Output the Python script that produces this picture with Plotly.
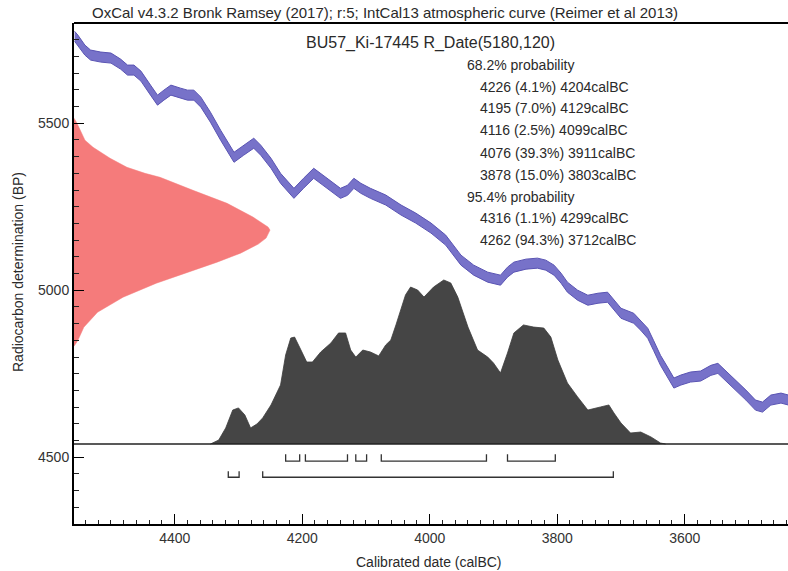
import plotly.graph_objects as go

# ---------------- data ----------------
# IntCal13 calibration curve (centre)
curve_year = [4557, 4552, 4541, 4532, 4516, 4500, 4485, 4474, 4464, 4453, 4438, 4427, 4417, 4406,
              4391, 4380, 4370, 4359, 4344, 4328, 4307, 4292, 4276, 4265, 4249, 4234, 4213, 4198,
              4182, 4163, 4140, 4129, 4119, 4108, 4093, 4069, 4045, 4022, 3998, 3975, 3951, 3931,
              3909, 3889, 3878, 3868, 3849, 3831, 3818, 3805, 3794, 3784, 3768, 3752, 3736, 3721,
              3711, 3700, 3680, 3669, 3658, 3649, 3638, 3627, 3617, 3606, 3591, 3575, 3559, 3548,
              3536, 3520, 3504, 3489, 3478, 3465, 3449, 3437]
curve_bp = [5760, 5749, 5719, 5704, 5698, 5695, 5677, 5659, 5659, 5641, 5599, 5569, 5584, 5599,
            5590, 5584, 5584, 5563, 5518, 5464, 5398, 5419, 5440, 5419, 5380, 5335, 5290, 5320,
            5350, 5323, 5290, 5299, 5320, 5305, 5290, 5270, 5240, 5216, 5186, 5150, 5090, 5060,
            5039, 5030, 5054, 5069, 5078, 5081, 5075, 5060, 5036, 5009, 4985, 4970, 4976, 4979,
            4955, 4931, 4916, 4895, 4871, 4835, 4790, 4755, 4722, 4731, 4740, 4743, 4760, 4766,
            4745, 4716, 4686, 4656, 4650, 4671, 4677, 4671]
curve_err = 15

rdate_bp = [5515, 5500, 5449, 5428, 5395, 5368, 5350, 5338, 5299, 5260, 5219, 5189, 5180,
            5156, 5138, 5111, 5084, 5054, 5021, 4979, 4934, 4889, 4850, 4832]
rdate_p = [0.0, 0.015, 0.056, 0.097, 0.184, 0.27, 0.362, 0.439, 0.607, 0.781, 0.913, 0.99, 1.0,
           0.98, 0.94, 0.85, 0.73, 0.58, 0.42, 0.25, 0.12, 0.05, 0.02, 0.0]

# Calibrated distribution (relative probability)
cal_year = [4344, 4331, 4320, 4309, 4300, 4290, 4281, 4271, 4262, 4249, 4234, 4226, 4218, 4212,
            4202, 4193, 4184, 4171, 4155, 4143, 4132, 4124, 4116, 4105, 4093, 4080, 4069, 4061,
            4053, 4045, 4038, 4030, 4019, 4009, 4002, 3994, 3978, 3967, 3956, 3940, 3925, 3909,
            3900, 3889, 3878, 3868, 3853, 3837, 3821, 3810, 3799, 3784, 3768, 3752, 3732, 3719,
            3711, 3700, 3685, 3669, 3653, 3638, 3630]
cal_p = [0.0, 0.024, 0.098, 0.207, 0.22, 0.177, 0.098, 0.122, 0.159, 0.238, 0.36, 0.543, 0.646,
         0.652, 0.573, 0.5, 0.5, 0.561, 0.616, 0.677, 0.677, 0.573, 0.53, 0.573, 0.561, 0.537,
         0.604, 0.634, 0.726, 0.817, 0.909, 0.957, 0.939, 0.896, 0.927, 0.957, 1.0, 0.982, 0.896,
         0.713, 0.573, 0.53, 0.494, 0.433, 0.555, 0.677, 0.726, 0.713, 0.707, 0.652, 0.512,
         0.372, 0.287, 0.207, 0.226, 0.238, 0.189, 0.128, 0.067, 0.073, 0.043, 0.006, 0.0]

# Ranges (calBC)
range68_from = [4226, 4195, 4116, 4076, 3878]
range68_to = [4204, 4129, 4099, 3911, 3803]
range68_pct = ["4.1%", "7.0%", "2.5%", "39.3%", "15.0%"]
range95_from = [4316, 4262]
range95_to = [4299, 3712]
range95_pct = ["1.1%", "94.3%"]

x_ticks = [4400, 4200, 4000, 3800, 3600]
y_ticks = [4500, 5000, 5500]

# ---------------- layout helpers ----------------
W, H = 788, 571
L, R, T, B = 74, 0, 23, 47
PW, PH = W - L - R, H - T - B


def px(xp):
    return (xp - L) / PW


def py(yp):
    return (H - B - yp) / PH


FONT = "Liberation Sans, Arial, sans-serif"
TXT = "#2a2a2a"

fig = go.Figure()

# calibration band
upper = [v + curve_err for v in curve_bp]
lower = [v - curve_err for v in curve_bp]
fig.add_trace(go.Scatter(
    x=curve_year + curve_year[::-1], y=upper + lower[::-1],
    fill="toself", fillcolor="#7772c9", mode="lines",
    line=dict(color="#5a54b3", width=1), hoverinfo="skip", showlegend=False))

# red measured distribution on left (x2 axis)
fig.add_trace(go.Scatter(
    x=rdate_p, y=rdate_bp, xaxis="x2", yaxis="y",
    fill="tozerox", fillcolor="#f57b7b", mode="lines",
    line=dict(color="#f57b7b", width=0.5), showlegend=False))

# calibrated distribution (y2 axis)
fig.add_trace(go.Scatter(
    x=cal_year, y=cal_p, xaxis="x", yaxis="y2",
    fill="tozeroy", fillcolor="#454545", mode="lines",
    line=dict(color="#3c3c3c", width=0.8), showlegend=False))

# range brackets (in BP coordinates)
row_levels = [(4509, 4488), (4458, 4440)]
for (froms, tos), (top, bot) in zip([(range68_from, range68_to), (range95_from, range95_to)], row_levels):
    for a, b in zip(froms, tos):
        fig.add_trace(go.Scatter(
            x=[a, a, b, b], y=[top, bot, bot, top], mode="lines",
            line=dict(color="#333333", width=1.3), showlegend=False, hoverinfo="skip"))

# ---------------- axes ----------------
baseline_px = 444
peak_px = 280
unit = baseline_px - peak_px
y2_lo = -(H - B - baseline_px) / unit
y2_hi = (baseline_px - T) / unit

fig.update_layout(
    width=W, height=H,
    margin=dict(l=L, r=R, t=T, b=B),
    paper_bgcolor="white", plot_bgcolor="white",
    font=dict(family=FONT, size=14, color=TXT),
    xaxis=dict(range=[4558, 3438], tickvals=x_ticks, ticks="inside", ticklen=10, tickwidth=1.3,
               tickcolor="black", showline=True, linewidth=2, linecolor="black",
               showgrid=False, zeroline=False, tickfont=dict(size=14, color="#333"),
               minor=dict(ticks="inside", ticklen=4, dtick=20, tick0=0, tickcolor="#222", showgrid=False)),
    yaxis=dict(range=[4300, 5800], tickvals=y_ticks, ticks="inside", ticklen=10, tickwidth=1.3,
               tickcolor="black", showline=True, linewidth=2, linecolor="black",
               showgrid=False, zeroline=False, tickfont=dict(size=14, color="#333"),
               minor=dict(ticks="inside", ticklen=5, dtick=50, tick0=0, tickcolor="#222", showgrid=False)),
    xaxis2=dict(overlaying="x", range=[0, PW / 196], visible=False),
    yaxis2=dict(overlaying="y", range=[y2_lo, y2_hi], visible=False),
    showlegend=False,
)

shapes = [
    dict(type="line", xref="paper", yref="paper", x0=0, x1=1, y0=1, y1=1,
         line=dict(color="black", width=2)),
    dict(type="line", xref="paper", yref="y2", x0=0, x1=1, y0=0, y1=0,
         line=dict(color="#222", width=1.5)),
]
fig.update_layout(shapes=shapes)

ann = []
ann.append(dict(text="OxCal v4.3.2 Bronk Ramsey (2017); r:5; IntCal13 atmospheric curve (Reimer et al 2013)",
                x=px(90), y=py(12), xanchor="left", yanchor="middle", font=dict(size=15)))
ann.append(dict(text="BU57_Ki-17445 R_Date(5180,120)", x=px(430), y=py(43),
                xanchor="center", yanchor="middle", font=dict(size=16)))
lines = [("68.2% probability", 465)]
for a, b, p in zip(range68_from, range68_to, range68_pct):
    lines.append((f"{a} ({p}) {b}calBC", 478))
lines.append(("95.4% probability", 465))
for a, b, p in zip(range95_from, range95_to, range95_pct):
    lines.append((f"{a} ({p}) {b}calBC", 478))
ys = [65, 87, 108, 130, 153, 175, 197, 218, 240]
for (t, xl), yy in zip(lines, ys):
    ann.append(dict(text=t, x=px(xl), y=py(yy), xanchor="left", yanchor="middle", font=dict(size=14)))
ann.append(dict(text="Calibrated date (calBC)", x=px(429), y=py(562), xanchor="center",
                yanchor="middle", font=dict(size=14)))
ann.append(dict(text="Radiocarbon determination (BP)", x=px(18), y=py(272), xanchor="center",
                yanchor="middle", textangle=-90, font=dict(size=14)))
for a in ann:
    a.update(xref="paper", yref="paper", showarrow=False)
fig.update_layout(annotations=ann)

fig.write_html("out.html", config={"displayModeBar": False},
               post_script="document.body.style.margin='0';document.body.style.overflow='hidden';")
